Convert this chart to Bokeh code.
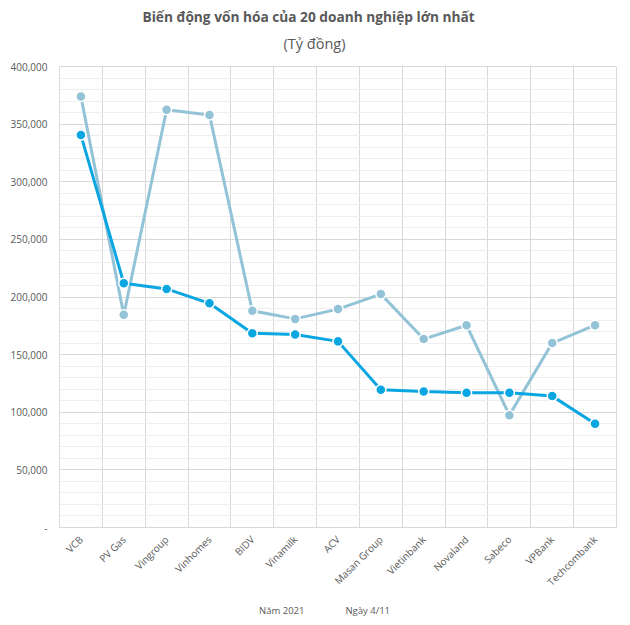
from bokeh.plotting import figure
from bokeh.models import FixedTicker, Title, Legend, LegendItem, Range1d
from bokeh.layouts import column
from bokeh.embed import file_html
from bokeh.resources import INLINE
from math import pi

companies = ["VCB", "PV Gas", "Vingroup", "Vinhomes", "BIDV", "Vinamilk", "ACV",
             "Masan Group", "Vietinbank", "Novaland", "Sabeco", "VPBank", "Techcombank"]
nam_2021 = [374000, 184500, 362500, 358000, 188000, 181000, 189500,
            202500, 163500, 175500, 97500, 160000, 175500]
ngay_4_11 = [340500, 212000, 207000, 194500, 168500, 167500, 161500,
             119500, 118000, 117000, 117000, 114000, 90000]
y_ticks = [0, 50000, 100000, 150000, 200000, 250000, 300000, 350000, 400000]
y_tick_labels = ["-", "50,000", "100,000", "150,000", "200,000", "250,000",
                 "300,000", "350,000", "400,000"]
title_text = "Biến động vốn hóa của 20 doanh nghiệp lớn nhất"
subtitle_text = "(Tỷ đồng)"

series_names = ["Năm 2021", "Ngày 4/11"]
colors = ["#93C3D7", "#0AA6E2"]
FONT = "Open Sans"
TXT = "#595959"

xs = list(range(len(companies)))

FW, FH = 557, 461
p = figure(frame_width=FW, frame_height=FH, output_backend="svg", toolbar_location=None,
           x_range=Range1d(-0.5, len(companies) - 0.5), y_range=Range1d(0, 400000),
           min_border_left=59, min_border_right=6, min_border_top=66, min_border_bottom=0)
p.title = None

# subtitle first (closest to the frame), then the main title above it
p.add_layout(Title(text=subtitle_text, align="left", offset=224, text_font=FONT,
                   text_font_size="14.5px", text_font_style="normal", text_color=TXT,
                   standoff=28), "above")
p.add_layout(Title(text=title_text, align="left", offset=83, text_font=FONT,
                   text_font_size="13.7px", text_font_style="bold", text_color=TXT,
                   standoff=-17), "above")

p.outline_line_color = "#D9D9D9"
p.background_fill_color = "white"
p.border_fill_color = "white"

# y axis
p.yaxis.ticker = FixedTicker(ticks=y_ticks, minor_ticks=list(range(0, 400001, 10000)))
p.yaxis.major_label_overrides = {t: l for t, l in zip(y_ticks, y_tick_labels)}
p.yaxis.axis_line_color = None
p.yaxis.major_tick_line_color = None
p.yaxis.minor_tick_line_color = None
p.yaxis.major_tick_out = 0
p.yaxis.minor_tick_out = 0
p.yaxis.major_label_text_font = FONT
p.yaxis.major_label_text_font_size = "10px"
p.yaxis.major_label_text_color = TXT
p.yaxis.major_label_standoff = 12
p.ygrid.grid_line_color = "#D9D9D9"
p.ygrid.minor_grid_line_color = "#EEEEEE"

# x axis
p.xaxis.ticker = FixedTicker(ticks=xs)
p.xaxis.major_label_overrides = {i: c for i, c in zip(xs, companies)}
p.xaxis.major_label_orientation = pi / 4
p.xaxis.axis_line_color = "#D9D9D9"
p.xaxis.major_tick_line_color = None
p.xaxis.minor_tick_line_color = None
p.xaxis.major_tick_out = 0
p.xaxis.minor_tick_out = 0
p.xaxis.major_label_text_font = FONT
p.xaxis.major_label_text_font_size = "10px"
p.xaxis.major_label_text_color = TXT
p.xaxis.major_label_text_line_height = 1.0
p.xaxis.major_label_standoff = 10
p.xgrid.ticker = FixedTicker(ticks=[i + 0.5 for i in xs[:-1]])
p.xgrid.grid_line_color = "#D9D9D9"

for name, vals, col in zip(series_names, [nam_2021, ngay_4_11], colors):
    p.line(xs, vals, line_color=col, line_width=3)
    p.scatter(xs, vals, size=10, fill_color=col, line_color="white", line_width=1.5)

# legend strip below the chart, same horizontal frame as the chart
leg = figure(frame_width=FW, frame_height=34, output_backend="svg", toolbar_location=None,
             x_range=Range1d(0, 1), y_range=Range1d(0, 1),
             min_border_left=59, min_border_right=6, min_border_top=0, min_border_bottom=0)
leg.axis.visible = False
leg.grid.visible = False
leg.outline_line_color = None
leg.title = None
items = []
for name, col in zip(series_names, colors):
    ln = leg.line(x=[], y=[], line_color=col, line_width=3)
    sc = leg.scatter(x=[], y=[], size=6, fill_color=col, line_color="white", line_width=1)
    items.append(LegendItem(label=name, renderers=[ln, sc]))
legend = Legend(items=items, orientation="horizontal", location=(171, 13),
                label_text_font=FONT, label_text_font_size="9.5px", label_text_color=TXT,
                border_line_color=None, background_fill_alpha=0,
                glyph_width=26, glyph_height=10, spacing=12, label_standoff=3,
                padding=2, margin=0)
leg.add_layout(legend, "center")

layout = column(p, leg, spacing=0)
open("out.html", "w").write(file_html(layout, INLINE))
